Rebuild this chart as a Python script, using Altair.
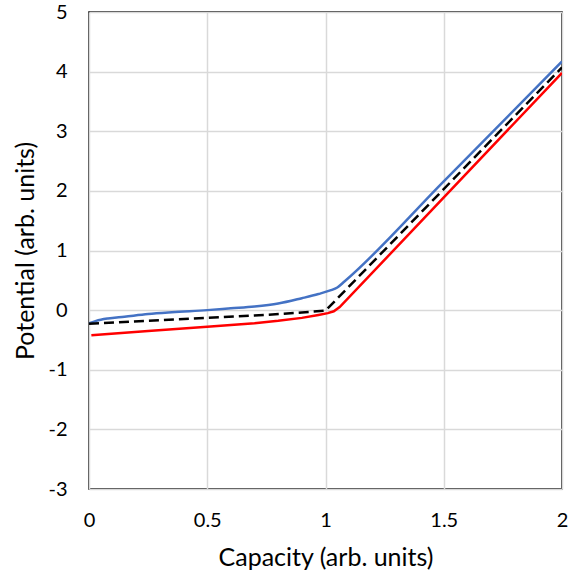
import altair as alt
import pandas as pd

# Blue curve
blue_x = [0.0, 0.03, 0.08, 0.15, 0.25, 0.35, 0.5, 0.6, 0.7, 0.8, 0.9, 0.97, 1.02, 1.05, 1.08, 1.5, 2.0]
blue_y = [-0.22, -0.18, -0.14, -0.11, -0.065, -0.035, 0.0, 0.03, 0.06, 0.11, 0.2, 0.27, 0.33, 0.38, 0.48, 2.16, 4.17]

# Black dashed curve
black_x = [0.0, 0.25, 0.5, 0.75, 0.9, 1.0, 2.0]
black_y = [-0.23, -0.18, -0.13, -0.08, -0.04, -0.01, 4.07]

# Red curve
red_x = [0.01, 0.25, 0.5, 0.7, 0.8, 0.9, 0.97, 1.01, 1.035, 1.06, 2.0]
red_y = [-0.42, -0.35, -0.28, -0.22, -0.18, -0.13, -0.08, -0.05, -0.02, 0.05, 3.98]

x_ticks = [0, 0.5, 1, 1.5, 2]
y_ticks = [-3, -2, -1, 0, 1, 2, 3, 4, 5]

FONT = "Lato"

blue_df = pd.DataFrame({"x": blue_x, "y": blue_y})
black_df = pd.DataFrame({"x": black_x, "y": black_y})
red_df = pd.DataFrame({"x": red_x, "y": red_y})

xs = alt.Scale(domain=[0, 2], nice=False, zero=False)
ys = alt.Scale(domain=[-3, 5], nice=False, zero=False)

xaxis = alt.Axis(values=x_ticks, labelExpr="datum.value + ''", title="Capacity (arb. units)",
                 grid=True, gridColor="#d9d9d9", gridWidth=1.5, domain=False, ticks=False, tickSize=0,
                 labelFont=FONT, labelFontSize=20, labelColor="#000000", labelPadding=21,
                 titleFont=FONT, titleFontSize=25, titleFontWeight="normal", titleColor="#000000",
                 titlePadding=15, labelFlush=False)
yaxis = alt.Axis(values=y_ticks, labelExpr="datum.value + ''", title="Potential (arb. units)",
                 grid=True, gridColor="#d9d9d9", gridWidth=1.5, domain=False, ticks=False, tickSize=0,
                 labelFont=FONT, labelFontSize=20, labelColor="#000000", labelPadding=22,
                 titleFont=FONT, titleFontSize=25, titleFontWeight="normal", titleColor="#000000",
                 titlePadding=9, labelFlush=False)

def line(df, color, dash=None, interp="linear"):
    kw = dict(color=color, strokeWidth=2.5, clip=True, interpolate=interp)
    if dash:
        kw["strokeDash"] = dash
    return alt.Chart(df).mark_line(**kw).encode(
        x=alt.X("x:Q", scale=xs, axis=xaxis),
        y=alt.Y("y:Q", scale=ys, axis=yaxis),
        order="x:Q",
    )

chart = alt.layer(
    line(blue_df, "#4472C4", interp="monotone"),
    line(red_df, "#FF0000"),
    line(black_df, "#000000", [10, 5]),
).properties(
    width=473, height=477,
    autosize=alt.AutoSizeParams(type="none"),
    padding={"left": 89, "top": 12, "right": 7, "bottom": 86},
    background="white",
).configure_view(stroke="#000000", strokeWidth=1.5)

chart.save("out.html", embed_options={"renderer": "svg", "actions": False})
